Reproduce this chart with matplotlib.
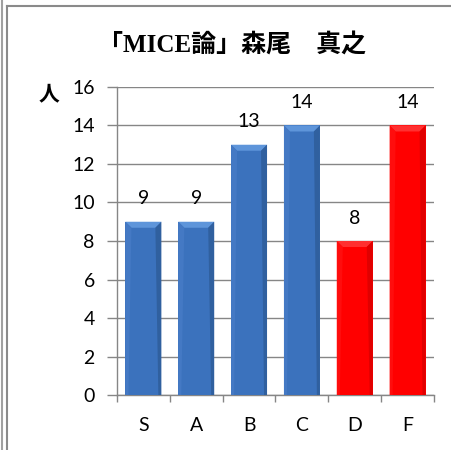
import matplotlib
matplotlib.use("Agg")
import matplotlib.pyplot as plt
from matplotlib.patches import Polygon
from matplotlib.lines import Line2D

categories = ["S", "A", "B", "C", "D", "F"]
values = [9, 9, 13, 14, 8, 14]
bar_colors = ["#3b72bd", "#3b72bd", "#3b72bd", "#3b72bd", "#ff0000", "#ff0000"]
bevel_top = ["#5e95da", "#5e95da", "#5e95da", "#5e95da", "#ff3030", "#ff3030"]
bevel_right = ["#30609f", "#30609f", "#30609f", "#30609f", "#e00000", "#e00000"]
bevel_left = ["#4479c4", "#4479c4", "#4479c4", "#4479c4", "#ff0d0d", "#ff0d0d"]
yticks = [0, 2, 4, 6, 8, 10, 12, 14, 16]
title = "「MICE論」森尾\u3000真之"
ylabel = "人"

tick_font = ["Lato", "DejaVu Sans"]
cjk_font = ["Liberation Serif", "Noto Sans CJK JP", "DejaVu Sans"]

fig = plt.figure(figsize=(4.51, 4.5), dpi=100)
ax = fig.add_axes([0.2594, 0.1222, 0.7029, 0.6845])

x = list(range(len(categories)))
bars = ax.bar(x, values, width=0.68, color=bar_colors, zorder=3, linewidth=0)

ax.set_xlim(-0.5, len(categories) - 0.5)
ax.set_ylim(0, 16)
ax.set_yticks(yticks)
ax.set_yticklabels([str(t) for t in yticks], fontfamily=tick_font, fontsize=14)
ax.set_xticks(x)
ax.set_xticklabels(categories, fontfamily=tick_font, fontsize=14)

# category boundary ticks
ax.set_xticks([i - 0.5 for i in range(len(categories) + 1)], minor=True)
ax.tick_params(axis="x", which="major", length=0, pad=16)
ax.tick_params(axis="x", which="minor", length=5, color="#868686", width=1)
ax.tick_params(axis="y", length=7, color="#868686", width=1, pad=9)

ax.yaxis.grid(True, color="#868686", linewidth=1, zorder=0)
ax.set_axisbelow(True)
for s in ["top", "right"]:
    ax.spines[s].set_visible(False)
for s in ["left", "bottom"]:
    ax.spines[s].set_color("#868686")
    ax.spines[s].set_linewidth(1)

# bevel effect derived from each bar's geometry
fig.canvas.draw()
inv = ax.transData.inverted()
bev = 6  # pixels
for i, p in enumerate(bars.patches):
    x0, y0 = p.get_x(), p.get_y()
    x1, y1 = x0 + p.get_width(), y0 + p.get_height()
    (px0, py0) = ax.transData.transform((x0, y0))
    (px1, py1) = ax.transData.transform((x1, y1))
    pts_top = [(px0, py1), (px1, py1), (px1 - bev, py1 - bev), (px0 + bev, py1 - bev)]
    pts_right = [(px1, py1), (px1, py0), (px1 - 3, py0), (px1 - bev, py1 - bev)]
    pts_left = [(px0, py1), (px0 + bev, py1 - bev), (px0 + 3, py0), (px0, py0)]
    for pts, c in [(pts_top, bevel_top[i]), (pts_right, bevel_right[i]), (pts_left, bevel_left[i])]:
        data_pts = inv.transform(pts)
        ax.add_patch(Polygon(data_pts, closed=True, facecolor=c, edgecolor="none", zorder=4))
    ax.annotate(str(values[i]), (p.get_x() + p.get_width() / 2, y1),
                xytext=(0, 16.5), textcoords="offset points",
                ha="center", va="center", fontfamily=tick_font, fontsize=14, zorder=5)

fig.text(0.515, 0.9, title, ha="center", va="center", fontsize=18,
         fontweight="bold", fontfamily=cjk_font)
fig.text(0.108, 0.792, ylabel, ha="center", va="center", fontsize=15,
         fontweight="bold", fontfamily=["Noto Sans CJK JP", "DejaVu Sans"])

# page and chart borders
fig.add_artist(Line2D([1.5 / 451, 1.5 / 451], [0, 1], color="#a0a0a0", linewidth=1.5))
fig.add_artist(Line2D([7.5 / 451, 7.5 / 451], [0, 1 - 5.5 / 450], color="#8a8a8a", linewidth=1.5))
fig.add_artist(Line2D([7.5 / 451, 1], [1 - 5.5 / 450, 1 - 5.5 / 450], color="#8a8a8a", linewidth=1.5))

fig.savefig("out.png", dpi=100)
